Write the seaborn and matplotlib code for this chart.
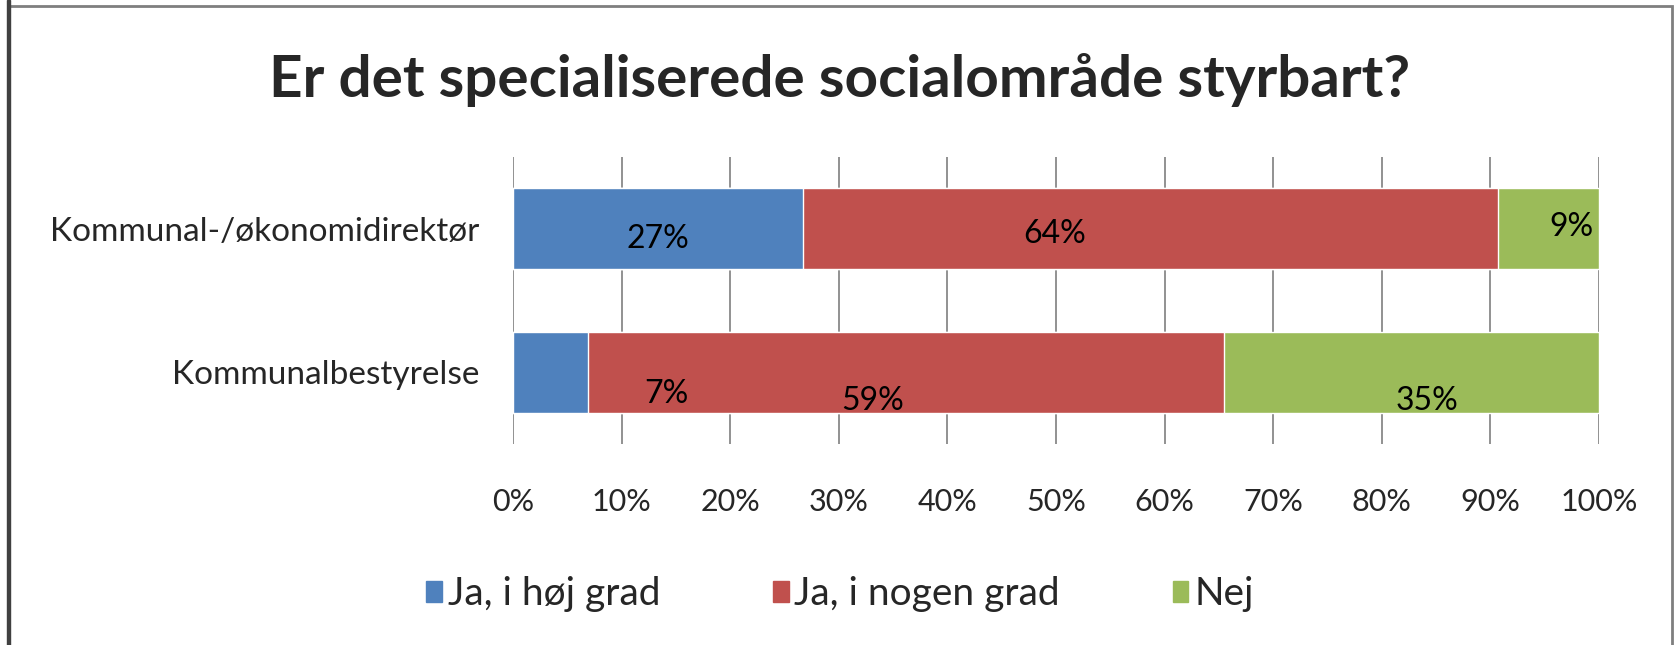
"""
Stacked horizontal bar: Er det specialiserede socialområde styrbart?
"""
import matplotlib
matplotlib.use("Agg")
import matplotlib.pyplot as plt
import matplotlib.patches as mpatches
import seaborn as sns
import numpy as np
import pandas as pd

# data
groups = ['Kommunal-/økonomidirektør', 'Kommunalbestyrelse']
answers = ['Ja, i høj grad', 'Ja, i nogen grad', 'Nej']
hoj_grad = [26.7, 6.9]
nogen_grad = [64.0, 58.6]
nej = [9.3, 34.5]
x_ticks = [0, 10, 20, 30, 40, 50, 60, 70, 80, 90, 100]

# where the old chart put its data labels (x in %, y offset in bar units)
label_x = [[13.3, 49.9, 97.5], [14.1, 33.1, 84.2]]
label_dy = [[0.07, 0.04, -0.01], [0.15, 0.20, 0.20]]

colors = ['#4F81BD', '#C0504D', '#9BBB59']

sns.set_style("white")
plt.rcParams['font.family'] = ['Lato', 'DejaVu Sans']

df = pd.DataFrame({'group': groups, answers[0]: hoj_grad,
                   answers[1]: nogen_grad, answers[2]: nej})
cum = df[answers].cumsum(axis=1)

fig = plt.figure(figsize=(16.79, 6.45), dpi=100)
W, H = 1679, 645
ax = fig.add_axes([513 / W, 1 - 444 / H, (1599 - 513) / W, (444 - 157) / H])

# draw from the longest cumulative bar down so the segments stack
for i in reversed(range(len(answers))):
    sns.barplot(x=cum[answers[i]], y=df['group'], color=colors[i],
                orient='h', width=0.565, ax=ax, saturation=1, zorder=2)

ax.set_xlim(0, 100)
ax.set_ylim(1.5, -0.5)
ax.set_xticks(x_ticks)
ax.set_xticklabels([f'{t}%' for t in x_ticks], fontsize=22)
ax.tick_params(axis='x', length=0, pad=32)
ax.tick_params(axis='y', length=0, pad=24, labelsize=24)
ax.set_xlabel('')
ax.set_ylabel('')
ax.xaxis.grid(True, color='#7f7f7f', linewidth=1.2)
ax.set_axisbelow(True)
for s in ax.spines.values():
    s.set_visible(False)

vals = df[answers].to_numpy()
for r in range(len(groups)):
    for c in range(len(answers)):
        ax.text(label_x[r][c], r + label_dy[r][c], f'{int(vals[r, c] + 0.5)}%',
                ha='center', va='center', fontsize=23, color='black', zorder=5)

fig.text(0.5, 1 - 80 / H, 'Er det specialiserede socialområde styrbart?',
         ha='center', va='center', fontsize=42, fontweight='bold')

handles = [mpatches.Patch(color=colors[i], label=answers[i]) for i in range(3)]
fig.legend(handles=handles, loc='center', bbox_to_anchor=(840 / W, 1 - 594 / H),
           ncol=3, frameon=False, fontsize=28, handlelength=0.4, handleheight=0.45,
           handletextpad=0.15, columnspacing=2.9)

# outer chart frame
fig.patches.append(mpatches.Rectangle((8 / W, -0.01), (1672 - 8) / W, 1.0,
                                      transform=fig.transFigure, fill=False,
                                      edgecolor='#7f7f7f', linewidth=2))
fig.patches.append(mpatches.Rectangle((7 / W, 0), 3 / W, 1,
                                      transform=fig.transFigure, color='#404040'))

fig.savefig('out.png', dpi=100)
